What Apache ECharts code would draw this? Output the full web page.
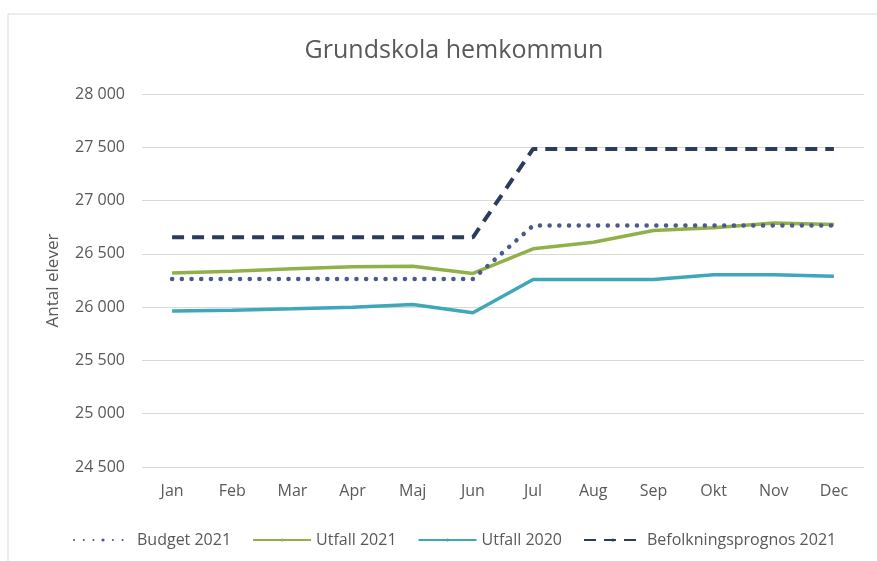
<!DOCTYPE html>
<html>
<head>
<meta charset="utf-8">
<script src="https://cdn.jsdelivr.net/npm/echarts@6/dist/echarts.min.js"></script>
<style>
  html, body { margin: 0; padding: 0; background: #fff; }
  #main { width: 877px; height: 561px; }
</style>
</head>
<body>
<div id="main"></div>
<script>
var months = ['Jan', 'Feb', 'Mar', 'Apr', 'Maj', 'Jun', 'Jul', 'Aug', 'Sep', 'Okt', 'Nov', 'Dec'];
var budget2021 = [26265, 26265, 26265, 26265, 26265, 26265, 26765, 26765, 26765, 26765, 26765, 26765];
var utfall2021 = [26320, 26337, 26360, 26378, 26383, 26316, 26547, 26609, 26720, 26744, 26790, 26775];
var utfall2020 = [25963, 25972, 25985, 26000, 26025, 25947, 26260, 26260, 26260, 26305, 26305, 26290];
var prognos2021 = [26655, 26655, 26655, 26655, 26655, 26655, 27485, 27485, 27485, 27485, 27485, 27485];

var txt = '#595959';
var font = '"Open Sans", sans-serif';

var myChart = echarts.init(document.getElementById('main'));

myChart.setOption({
    backgroundColor: '#fff',
    animation: false,
    graphic: [
        {
            type: 'rect',
            shape: { x: 8, y: 14, width: 900, height: 600 },
            style: { fill: 'none', stroke: '#d9d9d9', lineWidth: 1 },
            z: -1
        }
    ],
    title: {
        text: 'Grundskola hemkommun',
        left: 449,
        top: 33,
        textAlign: 'center',
        textStyle: { color: txt, fontSize: 25, fontWeight: 'normal', fontFamily: font }
    },
    legend: {
        top: 527,
        left: 68,
        itemWidth: 58,
        itemHeight: 4,
        itemGap: 21,
        textStyle: { color: txt, fontSize: 16, fontFamily: font },
        data: ['Budget 2021', 'Utfall 2021', 'Utfall 2020', 'Befolkningsprognos 2021']
    },
    grid: { left: 142, right: 13, top: 94, bottom: 94 },
    xAxis: {
        type: 'category',
        data: months,
        axisLine: { show: false },
        axisTick: { show: false },
        axisLabel: { color: txt, fontSize: 16, fontFamily: font, margin: 16 }
    },
    yAxis: {
        type: 'value',
        name: 'Antal elever',
        nameLocation: 'middle',
        nameGap: 80,
        nameTextStyle: { color: txt, fontSize: 17, fontFamily: font },
        min: 24500,
        max: 28000,
        interval: 500,
        axisLine: { show: false },
        axisTick: { show: false },
        splitLine: { lineStyle: { color: '#d9d9d9', width: 1 } },
        axisLabel: {
            color: txt,
            fontSize: 16,
            fontFamily: font,
            margin: 17,
            formatter: function (v) {
                return String(v).replace(/(\d)(?=(\d{3})+$)/g, '$1 ');
            }
        }
    },
    series: [
        {
            name: 'Budget 2021',
            type: 'line',
            symbol: 'none',
            data: budget2021,
            itemStyle: { color: '#4a5a8c' },
            lineStyle: { color: '#4a5a8c', width: 4.5, type: [0.1, 9.6], cap: 'round' },
            z: 3
        },
        {
            name: 'Utfall 2021',
            type: 'line',
            symbol: 'none',
            data: utfall2021,
            itemStyle: { color: '#92b04a' },
            lineStyle: { color: '#92b04a', width: 3.5 },
            z: 2
        },
        {
            name: 'Utfall 2020',
            type: 'line',
            symbol: 'none',
            data: utfall2020,
            itemStyle: { color: '#3fa7b8' },
            lineStyle: { color: '#3fa7b8', width: 3.5 },
            z: 2
        },
        {
            name: 'Befolkningsprognos 2021',
            type: 'line',
            symbol: 'none',
            data: prognos2021,
            itemStyle: { color: '#2b3b5c' },
            lineStyle: { color: '#2b3b5c', width: 4, type: [12, 8] },
            z: 3
        }
    ]
});
</script>
</body>
</html>
